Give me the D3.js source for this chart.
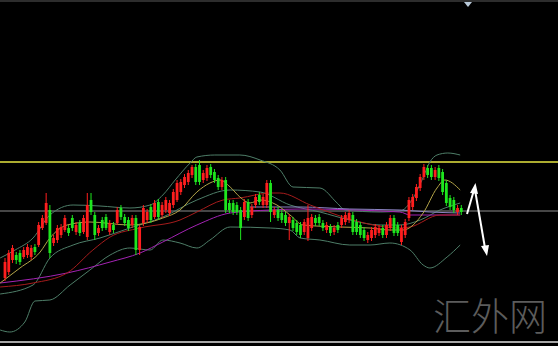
<!DOCTYPE html>
<html>
<head>
<meta charset="utf-8">
<script src="https://cdn.jsdelivr.net/npm/d3@7"></script>
<style>
	html, body { margin: 0; padding: 0; background: #000; }
	svg { display: block; }
</style>
</head>
<body>
<svg id="chart" width="558" height="346"></svg>
<script>
// candles: open / close / high / low
var opens = [1222,1228,1240,1245,1247,1243,1245,1243,1253,1255,1272,1277,1290,1257,1260,1265,1270,1272,1282,1268,
	1277,1268,1263,1300,1285,1267,1280,1283,1268,1275,1277,1292,1283,1280,1275,1282,1250,1277,1280,1293,
	1283,1298,1285,1290,1287,1295,1300,1308,1315,1318,1325,1333,1335,1320,1322,1333,1328,1322,1313,1320,
	1297,1297,1295,1290,1283,1298,1285,1295,1305,1295,1295,1317,1285,1290,1287,1285,1277,1280,1277,1275,
	1268,1262,1272,1282,1283,1277,1270,1273,1268,1275,1275,1278,1280,1285,1278,1275,1270,1260,1262,1265,
	1267,1272,1265,1272,1282,1275,1258,1265,1282,1293,1302,1312,1323,1332,1332,1323,1332,1328,1317,1302,
	1300,1288,1292];
var closes = [1238,1247,1252,1240,1238,1250,1253,1252,1248,1275,1282,1297,1247,1262,1272,1273,1282,1267,1272,1275,
	1267,1282,1295,1288,1265,1272,1272,1272,1277,1270,1290,1283,1277,1272,1282,1250,1273,1292,1288,1280,
	1297,1283,1295,1300,1297,1308,1317,1318,1323,1327,1333,1318,1318,1327,1332,1325,1320,1313,1320,1290,
	1290,1288,1288,1272,1298,1282,1293,1303,1298,1303,1317,1288,1290,1282,1280,1277,1283,1272,1268,1265,
	1278,1282,1283,1277,1277,1272,1275,1267,1272,1270,1282,1285,1287,1268,1268,1265,1262,1265,1270,1273,
	1272,1265,1275,1282,1267,1267,1272,1278,1300,1303,1313,1323,1333,1325,1323,1330,1322,1308,1297,1293,
	1290,1292,1288];
var highs = [1242,1250,1255,1248,1250,1253,1256,1255,1256,1278,1285,1307,1295,1265,1275,1276,1285,1275,1285,1278,
	1280,1285,1307,1307,1288,1275,1283,1286,1280,1278,1293,1295,1286,1283,1285,1285,1275,1295,1291,1296,
	1300,1301,1298,1303,1300,1311,1320,1321,1326,1330,1335,1336,1340,1330,1335,1336,1331,1325,1323,1323,
	1300,1300,1298,1293,1301,1301,1296,1306,1308,1306,1320,1320,1293,1293,1290,1288,1286,1283,1280,1278,
	1281,1295,1286,1285,1286,1280,1278,1276,1275,1278,1285,1288,1290,1288,1281,1278,1273,1268,1273,1276,
	1275,1275,1278,1285,1285,1278,1275,1281,1303,1306,1316,1326,1336,1335,1335,1333,1335,1331,1320,1305,
	1303,1295,1295];
var lows = [1219,1225,1237,1236,1235,1241,1242,1240,1245,1253,1270,1275,1242,1254,1257,1262,1268,1264,1269,1265,
	1264,1266,1260,1285,1260,1264,1269,1270,1265,1267,1275,1280,1274,1269,1272,1245,1245,1274,1277,1277,
	1281,1280,1282,1287,1284,1292,1298,1305,1312,1315,1322,1315,1315,1317,1319,1322,1317,1310,1310,1287,
	1287,1285,1285,1260,1280,1279,1282,1292,1295,1292,1292,1278,1282,1279,1277,1274,1260,1269,1265,1262,
	1265,1259,1269,1274,1274,1269,1267,1264,1265,1267,1272,1275,1277,1265,1265,1262,1259,1257,1259,1262,
	1264,1262,1262,1269,1264,1264,1255,1262,1279,1290,1299,1309,1320,1322,1320,1320,1319,1305,1294,1290,
	1287,1285,1285];

// indicator lines: [bar index, price]
var bollUpper = [[-1.3,1242],[2.7,1250],[7.5,1262],[12,1285],[18.2,1295],[25.4,1294],[33.4,1292],[38.8,1295],
	[42.2,1305],[45.5,1320],[49.5,1337],[51.3,1343],[56.1,1345],[62.8,1345],[68.2,1340],[73.5,1330],[77,1313],
	[84.2,1312],[88.8,1297],[90.9,1290],[100.3,1288],[105.6,1289],[108.8,1300],[111.5,1320],[113.6,1338],
	[115.5,1345],[118.4,1347],[121.7,1345]];
var bollMiddle = [[-1.3,1206],[7.5,1215],[12,1242],[18.2,1255],[25.4,1262],[33.4,1272],[42.2,1283],[51.3,1300],
	[60.2,1310],[68.2,1308],[76.2,1295],[84.2,1288],[92.2,1280],[100.3,1275],[105.6,1275],[111,1280],
	[116.3,1290],[121.7,1297]];
var bollLower = [[-1.3,1170],[1.3,1168],[5.3,1178],[8,1199],[12,1200],[17.4,1215],[22.7,1230],[28.1,1245],
	[33.4,1252],[38.8,1250],[42.2,1260],[46.8,1257],[51.3,1252],[54.8,1260],[60.2,1273],[70.9,1272],[76.2,1270],
	[78.9,1262],[84.2,1260],[92.2,1255],[97.6,1255],[102.9,1257],[108.3,1250],[111.8,1235],[113.6,1232],
	[118.2,1243],[121.7,1255]];
var maFast = [[-1.3,1217],[4,1232],[9.4,1248],[12,1262],[16.6,1275],[22.7,1278],[33.4,1275],[42.2,1282],
	[46.8,1290],[51.3,1308],[54.8,1317],[57.5,1320],[60.2,1313],[62.8,1303],[65.5,1297],[68.2,1300],[72.7,1295],
	[76.2,1285],[79.7,1275],[89.6,1273],[97.6,1272],[102.9,1270],[106.4,1270],[111.8,1287],[115.5,1312],
	[117.6,1320],[121.7,1310]];
var maRed = [[-1.3,1213],[7.5,1217],[16.6,1227],[23.5,1250],[28.1,1263],[36.1,1272],[46.8,1280],[51.3,1288],
	[58.3,1300],[62.8,1302],[70.9,1307],[73.5,1307],[81.6,1295],[88.8,1285],[94.9,1278],[105.6,1272],
	[108.3,1273],[116.3,1285],[121.7,1285]];
var maPurple = [[-1.3,1217],[16.6,1227],[28.1,1238],[36.1,1247],[42.2,1258],[51.3,1275],[60.2,1287],
	[70.9,1290],[78.9,1291],[105.6,1288],[108.3,1285],[121.7,1285]];
var maLavender = [[65.5,1293],[78.9,1293],[92.2,1291],[105.6,1290],[113.6,1288],[121.7,1287]];

var resistance = 1338;
var pivot = 1289;
var watermark = "汇外网";

var width = 558, height = 346;
var svg = d3.select("#chart");

var xScale = d3.scaleLinear().domain([0, 122]).range([5, 461.3]);
var yScale = d3.scaleLinear().domain([1154, 1500]).range([346, 0]);

svg.append("rect")
	.attr("width", width)
	.attr("height", height)
	.attr("fill", "#000");

// frame lines
svg.append("line")
	.attr("x1", 0).attr("x2", width)
	.attr("y1", 1).attr("y2", 1)
	.attr("stroke", "#5a5a5a")
	.attr("stroke-width", 1);
svg.append("rect")
	.attr("x", 0).attr("y", 341)
	.attr("width", width).attr("height", 2)
	.attr("fill", "#a8a8a8");

// small marker at the top
svg.append("path")
	.attr("d", "M464,2 L472,2 L468,7 Z")
	.attr("fill", "#b8c8d8");

// horizontal levels
svg.append("line")
	.attr("x1", 0).attr("x2", width)
	.attr("y1", yScale(pivot)).attr("y2", yScale(pivot))
	.attr("stroke", "#8c8c8c")
	.attr("stroke-width", 1);
svg.append("line")
	.attr("x1", 0).attr("x2", width)
	.attr("y1", yScale(resistance)).attr("y2", yScale(resistance))
	.attr("stroke", "#e6e640")
	.attr("stroke-width", 1.6);

// indicator lines
var lineGenerator = d3.line()
	.x(function(d){ return xScale(d[0]); })
	.y(function(d){ return yScale(d[1]); })
	.curve(d3.curveMonotoneX);

var lines = [
	{data: bollUpper, color: "#4e7e68"},
	{data: bollMiddle, color: "#4e7e68"},
	{data: bollLower, color: "#4e7e68"},
	{data: maPurple, color: "#a423b4"},
	{data: maLavender, color: "#8c84c4"},
	{data: maRed, color: "#a61c1c"},
	{data: maFast, color: "#b4a448"}
];
svg.append("g")
	.selectAll("path")
	.data(lines)
	.enter().append("path")
	.attr("d", function(d){ return lineGenerator(d.data); })
	.attr("fill", "none")
	.attr("stroke", function(d){ return d.color; })
	.attr("stroke-width", 1);

// candles
var candles = opens.map(function(o, i){
	return {i: i, o: o, c: closes[i], h: highs[i], l: lows[i]};
});
var candleColor = function(d){ return d.c >= d.o ? "#ff1e1e" : "#1ee61e"; };

var cg = svg.append("g").attr("id", "candles");
cg.selectAll("line")
	.data(candles)
	.enter().append("line")
	.attr("x1", function(d){ return xScale(d.i); })
	.attr("x2", function(d){ return xScale(d.i); })
	.attr("y1", function(d){ return yScale(d.h); })
	.attr("y2", function(d){ return yScale(d.l); })
	.attr("stroke", candleColor)
	.attr("stroke-width", 1);
cg.selectAll("rect")
	.data(candles)
	.enter().append("rect")
	.attr("x", function(d){ return xScale(d.i) - 1.4; })
	.attr("y", function(d){ return yScale(Math.max(d.o, d.c)); })
	.attr("width", 2.8)
	.attr("height", function(d){ return Math.max(1, Math.abs(yScale(d.o) - yScale(d.c))); })
	.attr("fill", candleColor);

// white arrows: bounce up then fall
var arrows = svg.append("g").attr("id", "arrows");
arrows.append("line")
	.attr("x1", 467).attr("y1", 214)
	.attr("x2", 474).attr("y2", 190)
	.attr("stroke", "#fff").attr("stroke-width", 2);
arrows.append("path")
	.attr("d", "M475.5,183 L470,193 L478,194 Z")
	.attr("fill", "#fff");
arrows.append("line")
	.attr("x1", 475).attr("y1", 190)
	.attr("x2", 485).attr("y2", 248)
	.attr("stroke", "#fff").attr("stroke-width", 2);
arrows.append("path")
	.attr("d", "M487,256 L481,246 L489,245 Z")
	.attr("fill", "#fff");

// watermark
svg.append("text")
	.attr("x", 433)
	.attr("y", 330)
	.attr("font-family", "'Noto Sans CJK SC', sans-serif")
	.attr("font-size", 38)
	.attr("font-weight", 300)
	.attr("fill", "#5c5c5c")
	.text(watermark);
</script>
</body>
</html>
